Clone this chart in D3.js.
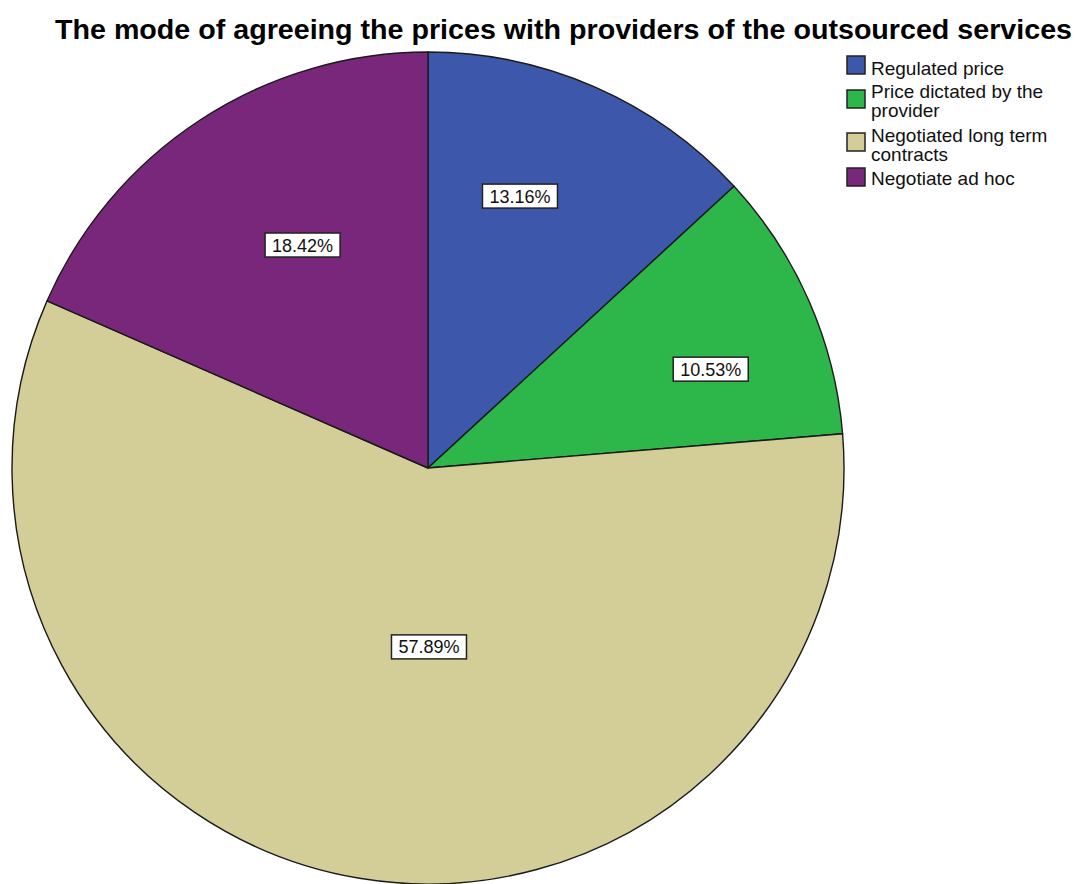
<!DOCTYPE html>
<html>
<head>
<meta charset="utf-8">
<script src="https://cdn.jsdelivr.net/npm/d3@7"></script>
<style>
  html, body { margin: 0; padding: 0; background: #ffffff; }
  svg { display: block; }
</style>
</head>
<body>
<svg id="chart" width="1078" height="884"></svg>
<script>
// Chart data
const title = "The mode of agreeing the prices with providers of the outsourced services";
const categories = [
  "Regulated price",
  "Price dictated by the provider",
  "Negotiated long term contracts",
  "Negotiate ad hoc"
];
const legendLines = [
  ["Regulated price"],
  ["Price dictated by the", "provider"],
  ["Negotiated long term", "contracts"],
  ["Negotiate ad hoc"]
];
const percentages = [13.16, 10.53, 57.89, 18.42];
const colors = ["#3d58ab", "#2db64a", "#d3ce97", "#79277a"];

// Layout
const width = 1078, height = 884;
const cx = 428, cy = 468, radius = 416;

// Label placement inside each slice: angle shift from the slice middle (deg) and radius fraction
const labelPlacement = [
  { shift: -5.0, r: 0.69 },
  { shift: 4.4,  r: 0.72 },
  { shift: -9.8, r: 0.43 },
  { shift: 3.8,  r: 0.615 }
];

const svg = d3.select("#chart");

svg.append("text")
  .attr("x", 55)
  .attr("y", 39)
  .attr("textLength", 1017)
  .attr("lengthAdjust", "spacingAndGlyphs")
  .style("font-family", "'Liberation Sans', Arial, sans-serif")
  .style("font-weight", "bold")
  .style("font-size", "28px")
  .style("fill", "#000")
  .text(title);

const pie = d3.pie().sort(null).value(d => d);
const arcs = pie(percentages);
const arc = d3.arc().innerRadius(0).outerRadius(radius);

const g = svg.append("g").attr("transform", `translate(${cx},${cy})`);

g.selectAll("path.slice")
  .data(arcs)
  .join("path")
  .attr("class", "slice")
  .attr("d", arc)
  .attr("fill", (d, i) => colors[i])
  .attr("stroke", "#1a1a1a")
  .attr("stroke-width", 1.4)
  .attr("stroke-linejoin", "round");

const fmt = d3.format(".2f");
const labels = g.selectAll("g.label")
  .data(arcs)
  .join("g")
  .attr("class", "label")
  .attr("transform", (d, i) => {
    const p = labelPlacement[i];
    const a = (d.startAngle + d.endAngle) / 2 + p.shift * Math.PI / 180;
    const r = radius * p.r;
    return `translate(${r * Math.sin(a)},${-r * Math.cos(a)})`;
  });

labels.append("rect")
  .attr("x", -37.5)
  .attr("y", -12)
  .attr("width", 75)
  .attr("height", 24)
  .attr("fill", "#ffffff")
  .attr("stroke", "#222")
  .attr("stroke-width", 1.5);

labels.append("text")
  .attr("text-anchor", "middle")
  .attr("y", 6.5)
  .style("font-family", "'Liberation Sans', Arial, sans-serif")
  .style("font-size", "18px")
  .style("fill", "#111")
  .text((d, i) => fmt(percentages[i]) + "%");

// Legend
const legendSwatchTop = [56, 90, 133, 168];
const legendBaseline = [75, 98, 142, 185];
const legendLineGap = 19;
const legend = svg.append("g");
legendLines.forEach((lines, i) => {
  legend.append("rect")
    .attr("x", 847)
    .attr("y", legendSwatchTop[i])
    .attr("width", 18)
    .attr("height", 18)
    .attr("fill", colors[i])
    .attr("stroke", "#222")
    .attr("stroke-width", 1.5);
  const t = legend.append("text")
    .attr("x", 871)
    .attr("y", legendBaseline[i])
    .style("font-family", "'Liberation Sans', Arial, sans-serif")
    .style("font-size", "19px")
    .style("fill", "#111");
  lines.forEach((ln, k) => {
    t.append("tspan").attr("x", 871).attr("dy", k === 0 ? 0 : legendLineGap).text(ln);
  });
});
</script>
</body>
</html>
